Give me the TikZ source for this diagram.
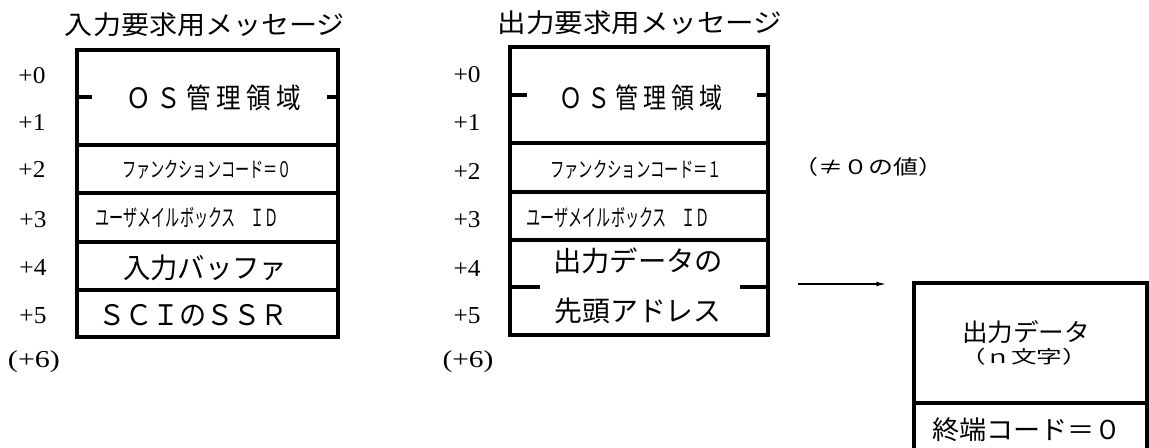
\documentclass[tikz,border=0pt]{standalone}
\usepackage{fontspec}
\newfontfamily\jp{Noto Sans CJK JP}
\newfontfamily\lab{Liberation Serif}
\usetikzlibrary{arrows.meta}
\newlength\pxu
\setlength\pxu{0.75pt}
\newcommand\fitj[3]{\resizebox*{#1\pxu}{#2\pxu}{\jp #3}}
\newcommand\fitl[3]{\resizebox{#1\pxu}{#2\pxu}{\lab #3}}
\tikzset{
  box/.style={line width=2.4pt},
  tick/.style={line width=2.4pt},
  txt/.style={inner sep=0pt, outer sep=0pt},
  conn/.style={line width=1.2pt, -{Latex[length=8pt,width=3.5pt]}}
}
\begin{document}
\begin{tikzpicture}[x=0.75pt, y=-0.75pt]
\useasboundingbox (0,0) rectangle (1149,448);

% ---------- left message ----------
\node[txt] (ltitle) at (205,25) {\fitj{280}{24}{入力要求用メッセージ}};
\draw[box] (77,50) rectangle (338,337);
\draw[box] (77,145) -- (338,145);
\draw[box] (77,193) -- (338,193);
\draw[box] (77,242) -- (338,242);
\draw[box] (77,290) -- (338,290);
\draw[tick] (77,97) -- (92,97);
\draw[tick] (327,97) -- (338,97);
\node[txt] (los)  at (214,98)  {\fitj{175}{26}{Ｏ Ｓ 管 理 領 域}};
\node[txt] (lfc)  at (207,170) {\fitj{170}{19}{ファンクションコード＝０}};
\node[txt] (lmb)  at (187,218) {\fitj{183}{21}{ユーザメイルボックス　ＩＤ}};
\node[txt] (lbuf) at (205,268) {\fitj{164}{26}{入力バッファ}};
\node[txt] (lssr) at (193,315) {\fitj{190}{22}{ＳＣＩのＳＳＲ}};
\node[txt] (l0) at (32,76)  {\fitl{27}{16}{+0}};
\node[txt] (l1) at (32,123) {\fitl{27}{16}{+1}};
\node[txt] (l2) at (32,170) {\fitl{27}{16}{+2}};
\node[txt] (l3) at (33,220) {\fitl{27}{16}{+3}};
\node[txt] (l4) at (33,268) {\fitl{27}{16}{+4}};
\node[txt] (l5) at (33,316) {\fitl{27}{16}{+5}};
\node[txt] (l6) at (34,362) {\resizebox*{52\pxu}{22\pxu}{\lab (+6)}};

% ---------- middle message ----------
\node[txt] (mtitle) at (640,23) {\fitj{285}{24}{出力要求用メッセージ}};
\draw[box] (510,47) rectangle (768,335);
\draw[box] (510,143) -- (768,143);
\draw[box] (510,192) -- (768,192);
\draw[box] (510,240) -- (768,240);
\draw[tick] (510,95) -- (527,95);
\draw[tick] (757,95) -- (768,95);
\draw[tick] (510,287) -- (540,287);
\draw[tick] (740,287) -- (768,287);
\node[txt] (mos)  at (641,98)  {\fitj{164}{26}{Ｏ Ｓ 管 理 領 域}};
\node[txt] (mfc)  at (636,170) {\fitj{172}{19}{ファンクションコード＝１}};
\node[txt] (mmb)  at (618,218) {\fitj{183}{21}{ユーザメイルボックス　ＩＤ}};
\node[txt] (mad1) at (638,261) {\fitj{170}{26}{出力データの}};
\node[txt] (mad2) at (638,311) {\fitj{167}{26}{先頭アドレス}};
\node[txt] (m0) at (467,75)  {\fitl{27}{16}{+0}};
\node[txt] (m1) at (467,123) {\fitl{27}{16}{+1}};
\node[txt] (m2) at (467,172) {\fitl{27}{16}{+2}};
\node[txt] (m3) at (467,220) {\fitl{27}{16}{+3}};
\node[txt] (m4) at (467,269) {\fitl{27}{16}{+4}};
\node[txt] (m5) at (467,316) {\fitl{27}{16}{+5}};
\node[txt] (m6) at (468,362) {\resizebox*{51\pxu}{22\pxu}{\lab (+6)}};

% ---------- note and arrow ----------
\node[txt] (note) at (868,167) {\fitj{150}{19}{（≠０の値）}};
\coordinate (arrS) at (798,284);
\coordinate (arrE) at (887,284);
\draw[conn] (arrS) -- (arrE);

% ---------- output data ----------
\draw[box] (914,449) -- (914,283) -- (1147,283) -- (1147,449);
\draw[box] (914,403) -- (1147,403);
\node[txt] (od1) at (1026,332) {\fitj{128}{23}{出力データ}};
\node[txt] (od2) at (1024,357) {\fitj{128}{17}{（ｎ文字）}};
\node[txt] (term) at (1027,430) {\fitj{190}{24}{終端コード＝０}};
\end{tikzpicture}
\end{document}
